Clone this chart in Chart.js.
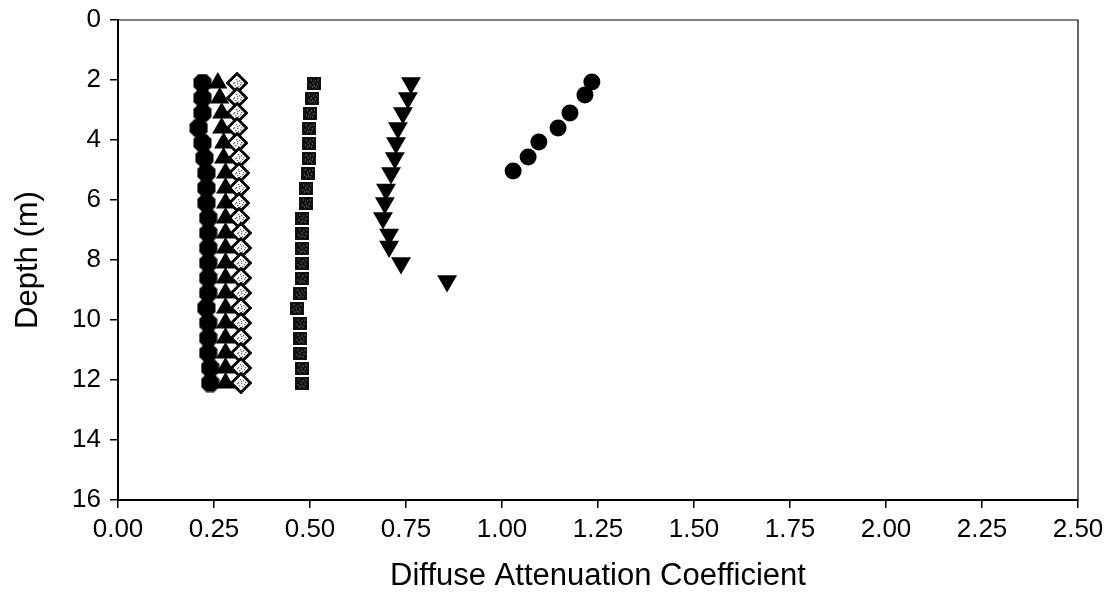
<!DOCTYPE html>
<html>
<head>
<meta charset="utf-8">
<script src="https://cdn.jsdelivr.net/npm/chart.js@4.4.1/dist/chart.umd.min.js"></script>
<style>
  html, body { margin: 0; padding: 0; background: #fff; }
  #wrap { width: 1111px; height: 601px; position: relative; }
</style>
</head>
<body>
<div id="wrap"><canvas id="c" width="1111" height="601"></canvas></div>
<script>
// ---- Data ----
const depthsA   = [2.1, 2.6, 3.1, 3.6, 4.1, 4.6, 5.1, 5.6, 6.1, 6.6, 7.1, 7.6, 8.1, 8.6, 9.1, 9.6, 10.1, 10.6, 11.1, 11.6, 12.1];
const kdOctagon = [0.22, 0.22, 0.22, 0.21, 0.22, 0.225, 0.23, 0.23, 0.23, 0.235, 0.235, 0.235, 0.235, 0.235, 0.235, 0.23, 0.235, 0.235, 0.235, 0.24, 0.24];
const kdTriUp   = [0.26, 0.265, 0.27, 0.27, 0.275, 0.275, 0.28, 0.28, 0.28, 0.28, 0.28, 0.28, 0.28, 0.28, 0.28, 0.28, 0.28, 0.28, 0.28, 0.28, 0.28];
const kdDiamond = [0.31, 0.31, 0.31, 0.31, 0.31, 0.315, 0.315, 0.315, 0.315, 0.315, 0.32, 0.32, 0.32, 0.32, 0.32, 0.32, 0.32, 0.32, 0.32, 0.32, 0.32];
const kdSquare  = [0.51, 0.505, 0.50, 0.497, 0.497, 0.497, 0.495, 0.49, 0.49, 0.48, 0.48, 0.48, 0.478, 0.478, 0.475, 0.465, 0.475, 0.475, 0.475, 0.478, 0.478];
const depthsTriDown = [2.1, 2.6, 3.1, 3.6, 4.1, 4.6, 5.1, 5.65, 6.1, 6.6, 7.15, 7.55, 8.1, 8.7];
const kdTriDown     = [0.763, 0.755, 0.742, 0.729, 0.724, 0.721, 0.711, 0.698, 0.695, 0.690, 0.706, 0.706, 0.737, 0.857];
const depthsCircle = [2.07, 2.5, 3.1, 3.6, 4.07, 4.57, 5.03];
const kdCircle     = [1.234, 1.216, 1.177, 1.146, 1.096, 1.068, 1.029];

const xTitle = 'Diffuse Attenuation Coefficient';
const yTitle = 'Depth (m)';

function pts(xs, ys) { return xs.map((v, i) => ({ x: v, y: ys[i] })); }

// ---- Marker images ----
function octagonImg() {
  const s = 19, c = document.createElement('canvas'); c.width = s; c.height = s;
  const g = c.getContext('2d');
  g.fillStyle = '#000';
  g.beginPath();
  const pts8 = [[5.5,0.5],[13.5,0.5],[18.5,5.5],[18.5,13.5],[13.5,18.5],[5.5,18.5],[0.5,13.5],[0.5,5.5]];
  pts8.forEach((p, i) => i ? g.lineTo(p[0], p[1]) : g.moveTo(p[0], p[1]));
  g.closePath(); g.fill();
  return c;
}
function diamondImg() {
  const s = 22, c = document.createElement('canvas'); c.width = s; c.height = s;
  const g = c.getContext('2d');
  g.beginPath();
  g.moveTo(11, 1.5); g.lineTo(20.5, 11); g.lineTo(11, 20.5); g.lineTo(1.5, 11); g.closePath();
  g.fillStyle = '#fff'; g.fill();
  g.fillStyle = '#666';
  const dots = [[10,7],[13,8],[8,10],[11,11],[14,12],[9,13],[12,14],[7,11],[15,10],[11,9]];
  dots.forEach(d => g.fillRect(d[0], d[1], 1.3, 1.3));
  g.lineWidth = 2.8; g.strokeStyle = '#000'; g.stroke();
  return c;
}
function squareImg() {
  const w = 14, h = 13, c = document.createElement('canvas'); c.width = w; c.height = h;
  const g = c.getContext('2d');
  g.fillStyle = '#111'; g.fillRect(0, 0, w, h);
  g.fillStyle = '#9a9a9a';
  const dots = [[4,3],[8,4],[6,6],[10,7],[3,8],[7,9],[9,10],[5,10],[11,3]];
  dots.forEach(d => g.fillRect(d[0], d[1], 1, 1));
  return c;
}

const ctx = document.getElementById('c').getContext('2d');

const framePlugin = {
  id: 'frame',
  afterDraw(chart) {
    const a = chart.chartArea, g = chart.ctx;
    g.save();
    g.strokeStyle = '#000'; g.lineWidth = 1.2;
    g.beginPath();
    g.moveTo(a.left, a.top); g.lineTo(a.right, a.top); g.lineTo(a.right, a.bottom);
    g.stroke();
    g.restore();
  }
};

const FONT = 'Liberation Sans, Arial, sans-serif';

new Chart(ctx, {
  type: 'scatter',
  data: {
    datasets: [
      { label: 'octagon', data: pts(kdOctagon, depthsA), pointStyle: octagonImg(), backgroundColor: '#000', borderColor: '#000' },
      { label: 'triangle', data: pts(kdTriUp, depthsA), pointStyle: 'triangle', pointRadius: 11, backgroundColor: '#000', borderColor: '#000', borderWidth: 0 },
      { label: 'diamond', data: pts(kdDiamond, depthsA), pointStyle: diamondImg(), backgroundColor: '#fff', borderColor: '#000' },
      { label: 'square', data: pts(kdSquare, depthsA), pointStyle: squareImg(), backgroundColor: '#111', borderColor: '#111' },
      { label: 'triangle down', data: pts(kdTriDown, depthsTriDown), pointStyle: 'triangle', rotation: 180, pointRadius: 11.5, backgroundColor: '#000', borderColor: '#000', borderWidth: 0 },
      { label: 'circle', data: pts(kdCircle, depthsCircle), pointStyle: 'circle', pointRadius: 8.5, backgroundColor: '#000', borderColor: '#000', borderWidth: 0 }
    ]
  },
  options: {
    responsive: false,
    animation: false,
    layout: { padding: { top: 20, right: 33, left: 0, bottom: 0 } },
    plugins: { legend: { display: false }, tooltip: { enabled: false } },
    scales: {
      x: {
        type: 'linear', min: 0, max: 2.5,
        afterFit(scale) { scale.height = 101; scale.paddingLeft = 0; scale.paddingRight = 0; },
        ticks: { stepSize: 0.25, color: '#000', padding: 6, font: { family: FONT, size: 26 },
                 callback: v => Number(v).toFixed(2), maxRotation: 0, autoSkip: false },
        grid: { drawOnChartArea: false, drawTicks: true, tickLength: 8, color: '#000', lineWidth: 1.5 },
        border: { display: true, color: '#000', width: 2 },
        title: { display: true, text: xTitle, color: '#000', font: { family: FONT, size: 31 }, padding: { top: 0, bottom: 6 } }
      },
      y: {
        type: 'linear', min: 0, max: 16, reverse: true,
        afterFit(scale) { scale.width = 118; scale.paddingTop = 0; scale.paddingBottom = 0; },
        ticks: { stepSize: 2, color: '#000', padding: 9, font: { family: FONT, size: 26 } },
        grid: { drawOnChartArea: false, drawTicks: true, tickLength: 8, color: '#000', lineWidth: 1.5 },
        border: { display: true, color: '#000', width: 2 },
        title: { display: true, text: yTitle, color: '#000', font: { family: FONT, size: 31 }, padding: { top: 10, bottom: 0 } }
      }
    }
  },
  plugins: [framePlugin]
});
</script>
</body>
</html>
